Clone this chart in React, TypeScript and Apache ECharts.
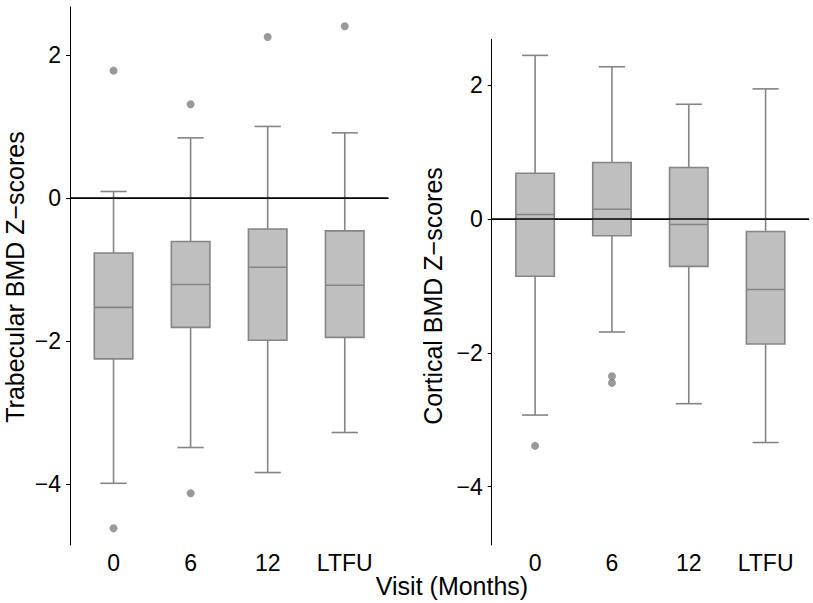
import React, { useEffect, useRef } from "react";
import * as echarts from "echarts";

const categories = ["0", "6", "12", "LTFU"];
// [lower whisker, Q1, median, Q3, upper whisker]
const trabecularStats = [
  [-3.99, -2.25, -1.53, -0.77, 0.09],
  [-3.49, -1.81, -1.21, -0.61, 0.84],
  [-3.84, -1.99, -0.97, -0.435, 1.0],
  [-3.28, -1.95, -1.22, -0.46, 0.91],
];
const trabecularOutliers = [
  [1, 1.78], [1, -4.62], [2, 1.31], [2, -4.13], [3, 2.25], [4, 2.4],
];
const corticalStats = [
  [-2.93, -0.857, 0.064, 0.68, 2.44],
  [-1.69, -0.254, 0.143, 0.84, 2.27],
  [-2.76, -0.71, -0.085, 0.766, 1.71],
  [-3.34, -1.87, -1.055, -0.19, 1.94],
];
const corticalOutliers = [[1, -3.39], [2, -2.35], [2, -2.45]];
const yTicks = [-4, -2, 0, 2];
const xTicks = [1, 2, 3, 4];

const FONT = "'Liberation Sans', Arial, Helvetica, sans-serif";
const BOX_FILL = "#bfbfbf";
const BOX_LINE = "#858585";

function renderBox(params: any, api: any) {
  const x = api.value(0);
  const low = api.coord([x, api.value(1)]);
  const q1 = api.coord([x, api.value(2)]);
  const med = api.coord([x, api.value(3)]);
  const q3 = api.coord([x, api.value(4)]);
  const high = api.coord([x, api.value(5)]);
  const bw = api.size([0.5, 0])[0];
  const cw = api.size([0.34, 0])[0];
  const ls = { stroke: BOX_LINE, lineWidth: 1.6 };
  return {
    type: "group",
    children: [
      { type: "line", shape: { x1: high[0], y1: high[1], x2: q3[0], y2: q3[1] }, style: ls },
      { type: "line", shape: { x1: low[0], y1: low[1], x2: q1[0], y2: q1[1] }, style: ls },
      { type: "line", shape: { x1: high[0] - cw / 2, y1: high[1], x2: high[0] + cw / 2, y2: high[1] }, style: ls },
      { type: "line", shape: { x1: low[0] - cw / 2, y1: low[1], x2: low[0] + cw / 2, y2: low[1] }, style: ls },
      {
        type: "rect",
        shape: { x: q3[0] - bw / 2, y: q3[1], width: bw, height: q1[1] - q3[1] },
        style: { fill: BOX_FILL, stroke: BOX_LINE, lineWidth: 1.6 },
      },
      { type: "line", shape: { x1: med[0] - bw / 2, y1: med[1], x2: med[0] + bw / 2, y2: med[1] }, style: ls },
    ],
  };
}

function makeXAxis(gridIndex: number) {
  return {
    type: "value",
    gridIndex,
    min: 0.435,
    max: 4.565,
    axisLine: { show: true, lineStyle: { color: "#000", width: 1 } },
    axisTick: { show: false },
    splitLine: { show: false },
    axisLabel: {
      customValues: xTicks,
      formatter: (v: number) => categories[Math.round(v) - 1] ?? "",
      fontSize: 23,
      fontFamily: FONT,
      color: "#000",
      margin: 6,
    },
  };
}

function makeYAxis(gridIndex: number, min: number, max: number) {
  return {
    type: "value",
    gridIndex,
    min,
    max,
    axisLine: { show: true, lineStyle: { color: "#000", width: 1 } },
    axisTick: { show: true, customValues: yTicks, length: 4, lineStyle: { color: "#000" } },
    splitLine: { show: false },
    axisLabel: {
      customValues: yTicks,
      formatter: (v: number) => String(v).replace("-", "\u2212"),
      fontSize: 23,
      fontFamily: FONT,
      color: "#000",
      margin: 9,
    },
  };
}

export default function App() {
  const ref = useRef<HTMLDivElement>(null);
  useEffect(() => {
    if (!ref.current) return;
    const chart = echarts.init(ref.current, undefined, { renderer: "svg" });
    const zeroLine = (xi: number) => ({
      type: "line",
      xAxisIndex: xi,
      yAxisIndex: xi,
      data: [],
      z: 1,
      silent: true,
      markLine: {
        silent: true,
        symbol: "none",
        label: { show: false },
        lineStyle: { color: "#000", width: 1.5, type: "solid" },
        data: [{ yAxis: 0 }],
      },
    });
    const title = (text: string, x: number, y: number, rotate: boolean) => ({
      type: "text",
      x,
      y,
      rotation: rotate ? Math.PI / 2 : 0,
      style: {
        text,
        fontSize: 25,
        fontFamily: FONT,
        fill: "#000",
        align: "center",
        verticalAlign: "middle",
      },
    });
    chart.setOption({
      animation: false,
      backgroundColor: "#fff",
      grid: [
        { left: 70, top: 7, width: 318.3, height: 538 },
        { left: 491.7, top: 39.3, width: 317.3, height: 505.7 },
      ],
      xAxis: [makeXAxis(0), makeXAxis(1)],
      yAxis: [makeYAxis(0, -4.853, 2.67), makeYAxis(1, -4.87, 2.68)],
      graphic: [
        title("Trabecular BMD Z\u2212scores", 15, 277, true),
        title("Cortical BMD Z\u2212scores", 433, 296, true),
        title("Visit (Months)", 452, 586, false),
      ],
      series: [
        zeroLine(0),
        zeroLine(1),
        {
          type: "custom",
          xAxisIndex: 0,
          yAxisIndex: 0,
          z: 3,
          renderItem: renderBox,
          encode: { x: 0, y: [1, 2, 3, 4, 5] },
          data: trabecularStats.map((s, i) => [i + 1, ...s]),
        },
        {
          type: "custom",
          xAxisIndex: 1,
          yAxisIndex: 1,
          z: 3,
          renderItem: renderBox,
          encode: { x: 0, y: [1, 2, 3, 4, 5] },
          data: corticalStats.map((s, i) => [i + 1, ...s]),
        },
        {
          type: "scatter",
          xAxisIndex: 0,
          yAxisIndex: 0,
          z: 4,
          symbolSize: 8,
          itemStyle: { color: "#808080" },
          data: trabecularOutliers,
        },
        {
          type: "scatter",
          xAxisIndex: 1,
          yAxisIndex: 1,
          z: 4,
          symbolSize: 8,
          itemStyle: { color: "#808080" },
          data: corticalOutliers,
        },
      ],
    });
    return () => chart.dispose();
  }, []);
  return (
    <div
      ref={ref}
      style={{ position: "fixed", left: 0, top: 0, width: 813, height: 603 }}
    />
  );
}
